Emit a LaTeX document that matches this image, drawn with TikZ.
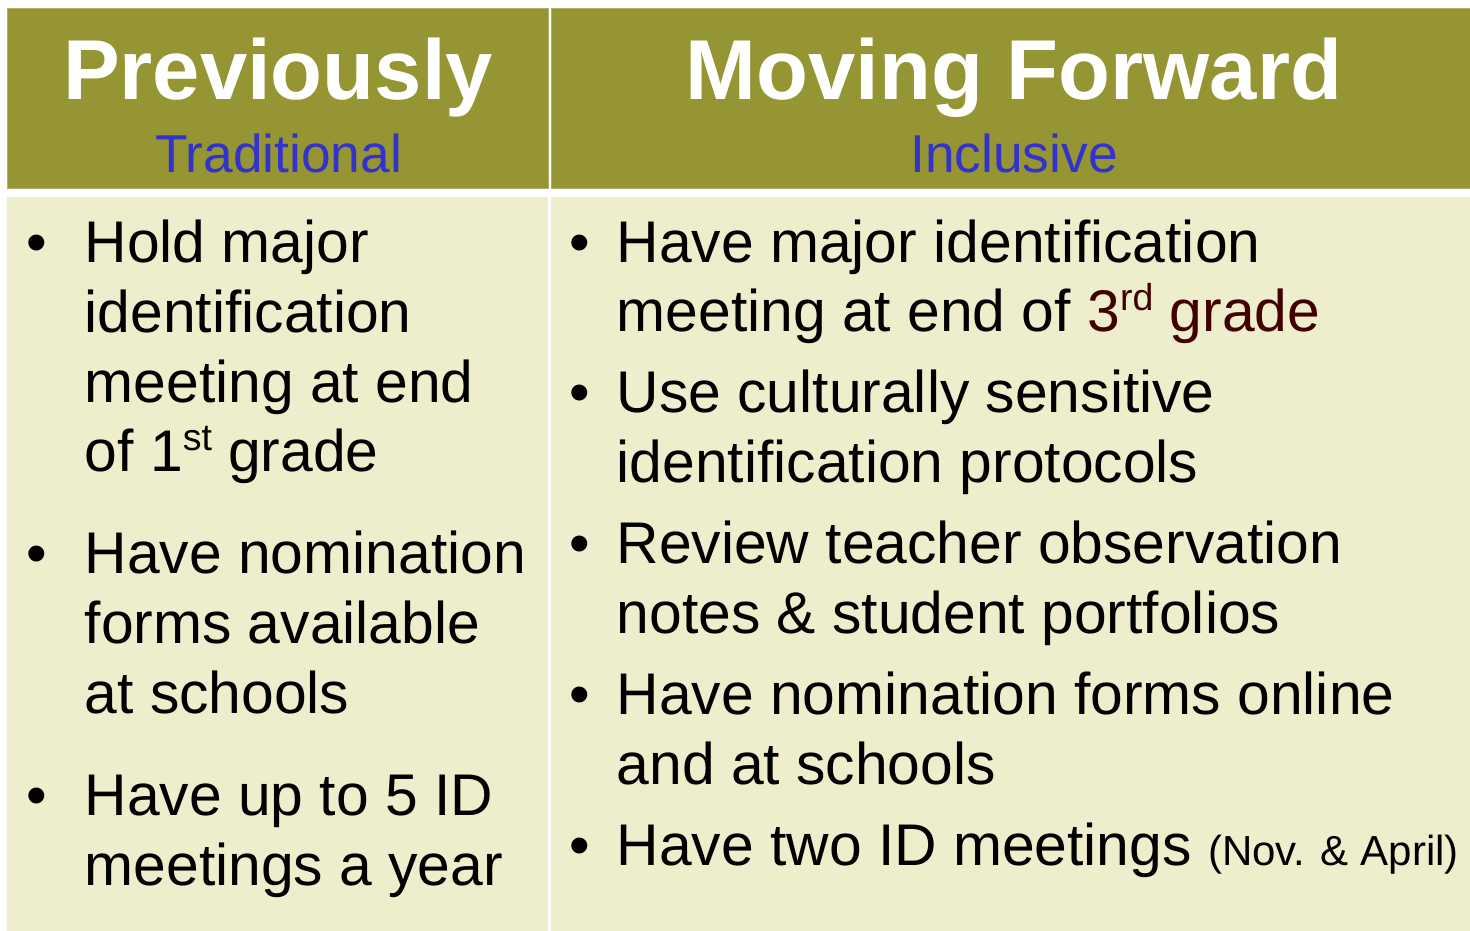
\documentclass[tikz,border=0pt]{standalone}
\usepackage{fontspec}
\setmainfont{Liberation Sans}
\definecolor{hdr}{RGB}{149,149,51}
\definecolor{hdredge}{RGB}{176,176,110}
\definecolor{bodybg}{RGB}{238,238,204}
\definecolor{subblue}{RGB}{51,51,204}
\definecolor{darkred}{RGB}{64,0,0}
\newcommand{\supx}[1]{\raisebox{21pt}{\fontsize{37.5}{37.5}\selectfont #1}}
\begin{document}
\begin{tikzpicture}[x=1pt,y=-1pt,
  txt/.style={anchor=base west, inner sep=0pt, font=\fontsize{58.8}{70}\selectfont, text=black},
  bul/.style={anchor=base west, inner sep=0pt, font=\fontsize{58.8}{70}\selectfont, text=black},
  head/.style={anchor=base, inner sep=0pt, font=\fontsize{85}{90}\selectfont\bfseries, text=white},
  sub/.style={anchor=base, inner sep=0pt, font=\fontsize{53.3}{60}\selectfont, text=subblue},
  hcell/.style={fill=hdr, draw=hdredge, line width=1pt},
  bcell/.style={fill=bodybg}]
\useasboundingbox (0,0) rectangle (1470,931);
\fill[white] (0,0) rectangle (1470,931);
% cells
\path[hcell] (7.5,8.5) rectangle (548,188);
\path[hcell] (551,8.5) rectangle (1471,188);
\path[bcell] (7,197) rectangle (548,931);
\path[bcell] (551,197) rectangle (1470,931);
% headers
\node[head] (hL) at (278,100) {Previously};
\node[sub] (sL) at (278.5,172) {Traditional};
\node[head] (hR) at (1014,100) {Moving Forward};
\node[sub] (sR) at (1014,172) {Inclusive};
% left column
\node[bul] (bL1) at (26,262) {•};
\node[txt] (L1) at (84.5,262) {Hold major};
\node[txt] (L2) at (84.5,332) {identification};
\node[txt] (L3) at (84.5,402) {meeting at end};
\node[txt] (L4) at (84.5,471) {of 1\supx{st} grade};
\node[bul] (bL2) at (26,573) {•};
\node[txt] (L5) at (84.5,573) {Have nomination};
\node[txt] (L6) at (84.5,643) {forms available};
\node[txt] (L7) at (84.5,713) {at schools};
\node[bul] (bL3) at (26,815) {•};
\node[txt] (L8) at (84.5,815) {Have up to 5 ID};
\node[txt] (L9) at (84.5,885) {meetings a year};
% right column
\node[bul] (bR1) at (569,262) {•};
\node[txt] (R1) at (616.5,262) {Have major identification};
\node[txt] (R2) at (616.5,331) {meeting at end of \textcolor{darkred}{3\supx{rd} grade}};
\node[bul] (bR2) at (569,412) {•};
\node[txt] (R3) at (616.5,412) {Use culturally sensitive};
\node[txt] (R4) at (616.5,482) {identification protocols};
\node[bul] (bR3) at (569,563) {•};
\node[txt] (R5) at (616.5,563) {Review teacher observation};
\node[txt] (R6) at (616.5,633) {notes \& student portfolios};
\node[bul] (bR4) at (569,714) {•};
\node[txt] (R7) at (616.5,714) {Have nomination forms online};
\node[txt] (R8) at (616.5,784) {and at schools};
\node[bul] (bR5) at (569,865) {•};
\node[txt] (R9) at (616.5,865) {Have two ID meetings {\fontsize{42}{42}\selectfont(Nov. \& April)}};
\end{tikzpicture}
\end{document}
